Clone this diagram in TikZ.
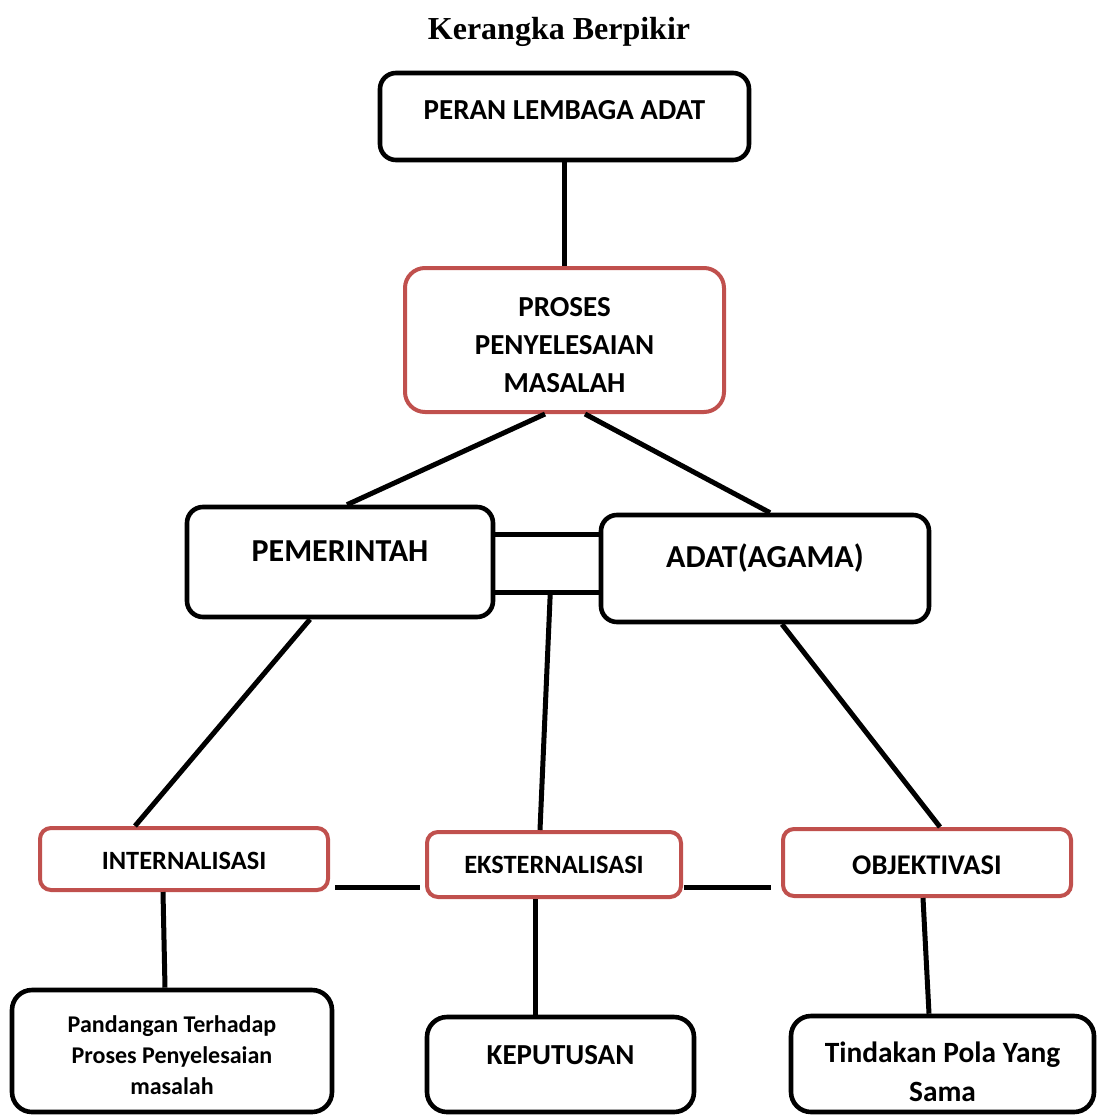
\documentclass[tikz,border=0pt]{standalone}
\usepackage{fontspec}
\setmainfont{Carlito}
\newfontfamily\titlefont{Liberation Serif}
\usepackage{xcolor}
\definecolor{adatred}{RGB}{192,80,77}
\usetikzlibrary{
  positioning,
  calc
}

\begin{document}
\begin{tikzpicture}[
    x=1pt, y=-1pt,
    box/.style={
      rectangle, rounded corners=16pt, draw=#1, line width=4.6pt,
      fill=white, inner sep=0pt
    },
    box/.default=black,
    redbox/.style={box=adatred, line width=4pt},
    lab/.style={align=center, text=black},
    link/.style={line width=5pt, black}
  ]
  \useasboundingbox (0,0) rectangle (1097,1115);

  %% Title
  \node[font=\titlefont\bfseries\fontsize{32pt}{38pt}\selectfont] (title) at (559,32) {Kerangka Berpikir};

  %% Top level
  \node[box, minimum width=369pt, minimum height=87pt,
        label={[lab, yshift=6.5pt, font=\bfseries\fontsize{29pt}{36pt}\selectfont]center:PERAN LEMBAGA ADAT}] (peran) at (564.5,116.5) {};
  \node[redbox, rounded corners=20pt, minimum width=319pt, minimum height=144pt,
        label={[lab, yshift=-5pt, font=\bfseries\fontsize{29pt}{38pt}\selectfont]center:PROSES\\PENYELESAIAN\\MASALAH}] (proses) at (564.5,340) {};

  %% Two actors
  \node[box, minimum width=306pt, minimum height=110pt,
        label={[lab, yshift=11pt, font=\bfseries\fontsize{32pt}{38pt}\selectfont]center:PEMERINTAH}] (pem) at (340,562) {};
  \node[box, minimum width=328pt, minimum height=107pt,
        label={[lab, yshift=10.5pt, font=\bfseries\fontsize{32pt}{38pt}\selectfont]center:ADAT(AGAMA)}] (adat) at (765,568.5) {};

  %% Three moments
  \node[redbox, rounded corners=11pt, minimum width=288pt, minimum height=62pt,
        label={[lab, yshift=-2pt, font=\bfseries\fontsize{26.4pt}{32pt}\selectfont]center:INTERNALISASI}] (intern) at (184,859) {};
  \node[redbox, rounded corners=11pt, minimum width=254pt, minimum height=65pt,
        label={[lab, font=\bfseries\fontsize{26.4pt}{32pt}\selectfont]center:EKSTERNALISASI}] (ekst) at (554,864.5) {};
  \node[redbox, rounded corners=11pt, minimum width=288pt, minimum height=67pt,
        label={[lab, yshift=-2.5pt, font=\bfseries\fontsize{28.5pt}{34pt}\selectfont]center:OBJEKTIVASI}] (obj) at (927,862.5) {};

  %% Results
  \node[box, rounded corners=20pt, minimum width=320pt, minimum height=122pt,
        label={[lab, yshift=-4pt, font=\bfseries\fontsize{24pt}{31pt}\selectfont]center:Pandangan Terhadap\\Proses Penyelesaian\\masalah}] (pand) at (172,1051) {};
  \node[box, rounded corners=20pt, minimum width=267pt, minimum height=95pt,
        label={[lab, yshift=9.5pt, font=\bfseries\fontsize{29pt}{36pt}\selectfont]center:KEPUTUSAN}] (kep) at (560.5,1064.5) {};
  \node[box, rounded corners=20pt, minimum width=303pt, minimum height=96pt,
        label={[lab, yshift=-7.5pt, font=\bfseries\fontsize{29.4pt}{39pt}\selectfont]center:Tindakan Pola Yang\\Sama}] (tind) at (942.5,1064) {};

  %% Connectors
  \draw[link] (peran) -- (proses);
  \draw[link] ([xshift=-19.5pt]proses.south) -- ([xshift=7pt]pem.north);
  \draw[link] ([xshift=20.5pt]proses.south) -- ([xshift=5pt]adat.north);

  \coordinate (pa1) at ([yshift=28pt]pem.east);
  \coordinate (pa2) at ([yshift=-30pt]pem.east);
  \coordinate (pa3) at ([xshift=55pt]pa2);
  \draw[link] (pa1) -- (pa1 -| adat.west);
  \draw[link] (pa2) -- (pa2 -| adat.west);
  \draw[link] (pa3) -- ([xshift=-14pt]ekst.north);

  \draw[link] ([xshift=-30pt]pem.south) -- ([xshift=-49pt]intern.north);
  \draw[link] ([xshift=17pt]adat.south) -- ([xshift=13pt]obj.north);

  \coordinate (ie) at ([yshift=-28pt]intern.east);
  \coordinate (eo) at ([yshift=-22.5pt]ekst.east);
  \draw[link, shorten <=5pt, shorten >=5pt] (ie) -- (ie -| ekst.west);
  \draw[link, shorten <=1pt, shorten >=10pt] (eo) -- (eo -| obj.west);

  \draw[link] ([xshift=-21pt]intern.south) -- ([xshift=-7pt]pand.north);
  \draw[link] ([xshift=-19pt]ekst.south) -- ([xshift=-25.5pt]kep.north);
  \draw[link] ([xshift=-4pt]obj.south) -- ([xshift=-13.5pt]tind.north);

\end{tikzpicture}
\end{document}
